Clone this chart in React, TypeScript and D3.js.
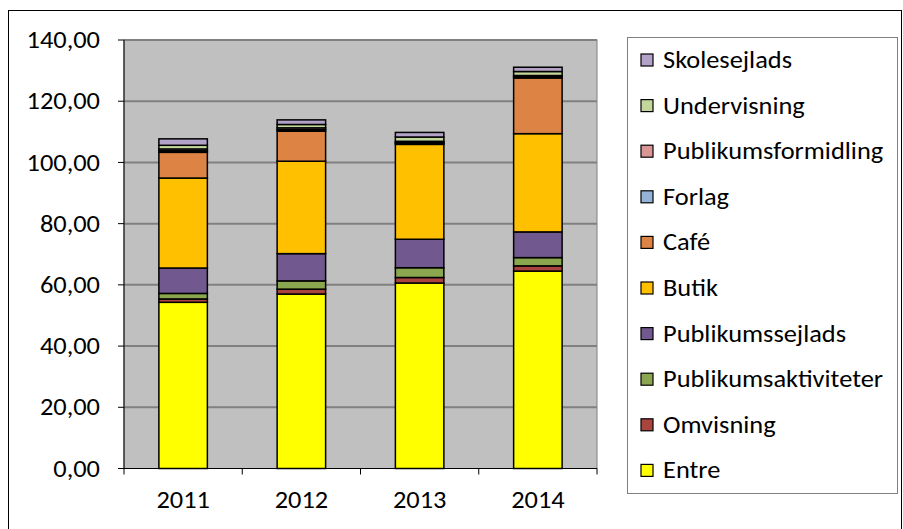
import * as React from "react";
import * as d3 from "d3";

const years = ["2011", "2012", "2013", "2014"];
const seriesNames = [
  "Entre",
  "Omvisning",
  "Publikumsaktiviteter",
  "Publikumssejlads",
  "Butik",
  "Café",
  "Forlag",
  "Publikumsformidling",
  "Undervisning",
  "Skolesejlads",
];
const entre = [54.3, 57.0, 60.6, 64.5];
const omvisning = [1.1, 1.6, 1.8, 1.7];
const aktiviteter = [1.8, 2.7, 3.2, 2.7];
const sejlads = [8.3, 8.9, 9.3, 8.4];
const butik = [29.4, 30.2, 31.0, 32.1];
const cafe = [8.4, 9.8, 0.3, 18.2];
const forlag = [0.5, 0.5, 0.35, 0.4];
const formidling = [0.6, 0.6, 0.35, 0.4];
const undervisning = [1.2, 1.1, 1.4, 1.3];
const skolesejlads = [2.1, 1.5, 1.5, 1.4];
const yTicks = [0, 20, 40, 60, 80, 100, 120, 140];
const colors = [
  "#FFFF00",
  "#A9443F",
  "#8AA64E",
  "#71588F",
  "#FFC000",
  "#DD8444",
  "#95B3D7",
  "#D99694",
  "#C3D69B",
  "#B3A2C7",
];

const allSeries = [entre, omvisning, aktiviteter, sejlads, butik, cafe, forlag, formidling, undervisning, skolesejlads];

// text is a bit wider than Carlito in the original, so stretch horizontally
const Label = ({ x, y, anchor, children }: any) => (
  <text
    transform={`translate(${x},${y}) scale(1.1,1)`}
    textAnchor={anchor}
    dominantBaseline="central"
    fontFamily="Carlito, Lato, sans-serif"
    fontSize={24}
    fill="#000"
  >
    {children}
  </text>
);

const App = () => {
  const width = 903;
  const height = 529;
  const left = 124;
  const right = 597;
  const top = 40;
  const bottom = 468.5;

  const rows = years.map((y, i) => {
    const r: any = { year: y };
    seriesNames.forEach((s, j) => (r[s] = allSeries[j][i]));
    return r;
  });
  const stacked = d3.stack().keys(seriesNames)(rows);

  const x = d3.scaleBand().domain(years).range([left, right]).paddingInner(0.59).paddingOuter(0.295);
  const y = d3.scaleLinear().domain([0, 140]).range([bottom, top]);
  const fmt = (v: number) => d3.format(".2f")(v).replace(".", ",");

  const legendX = 627;
  const legendY = 37;
  const step = 45.6;

  return (
    <svg width={width} height={height} style={{ position: "absolute", left: 0, top: 0 }}>
      <rect x={0} y={0} width={width} height={height} fill="#fff" />
      <rect x={8.5} y={10.5} width={893} height={530} fill="none" stroke="#000" strokeWidth={1} />
      <rect x={left} y={top} width={right - left} height={bottom - top} fill="#C0C0C0" stroke="#808080" strokeWidth={1} />
      {yTicks.map(t => (
        <g key={t}>
          {t > 0 && <line x1={left} x2={right} y1={y(t)} y2={y(t)} stroke="#808080" strokeWidth={2} />}
          <line x1={left - 6} x2={left} y1={y(t)} y2={y(t)} stroke="#000" strokeWidth={1} />
          <Label x={100} y={y(t)} anchor="end">{fmt(t)}</Label>
        </g>
      ))}
      {stacked.map((layer, j) => (
        <g key={layer.key}>
          {layer.map((d, i) => (
            <rect
              key={i}
              x={x(years[i])}
              y={y(d[1])}
              width={x.bandwidth()}
              height={Math.max(0, y(d[0]) - y(d[1]))}
              fill={colors[j]}
              stroke="#000"
              strokeWidth={1.5}
            />
          ))}
        </g>
      ))}
      <line x1={left} x2={left} y1={top} y2={bottom} stroke="#000" strokeWidth={1} />
      <line x1={left} x2={right} y1={bottom} y2={bottom} stroke="#000" strokeWidth={1} />
      {[0, 1, 2, 3, 4].map(i => {
        const xx = left + (i * (right - left)) / 4;
        return <line key={i} x1={xx} x2={xx} y1={bottom} y2={bottom + 6} stroke="#000" strokeWidth={1} />;
      })}
      {years.map(yr => (
        <Label key={yr} x={x(yr)! + x.bandwidth() / 2} y={500} anchor="middle">{yr}</Label>
      ))}
      <rect x={legendX + 0.5} y={legendY + 0.5} width={270} height={456} fill="#fff" stroke="#808080" strokeWidth={1} />
      {seriesNames
        .slice()
        .reverse()
        .map((s, k) => {
          const cy = 60 + k * step;
          const j = seriesNames.indexOf(s);
          return (
            <g key={s}>
              <rect x={641} y={cy - 6} width={12} height={12} fill={colors[j]} stroke="#000" strokeWidth={1.2} />
              <Label x={663} y={cy} anchor="start">{s}</Label>
            </g>
          );
        })}
    </svg>
  );
};

export default App;
